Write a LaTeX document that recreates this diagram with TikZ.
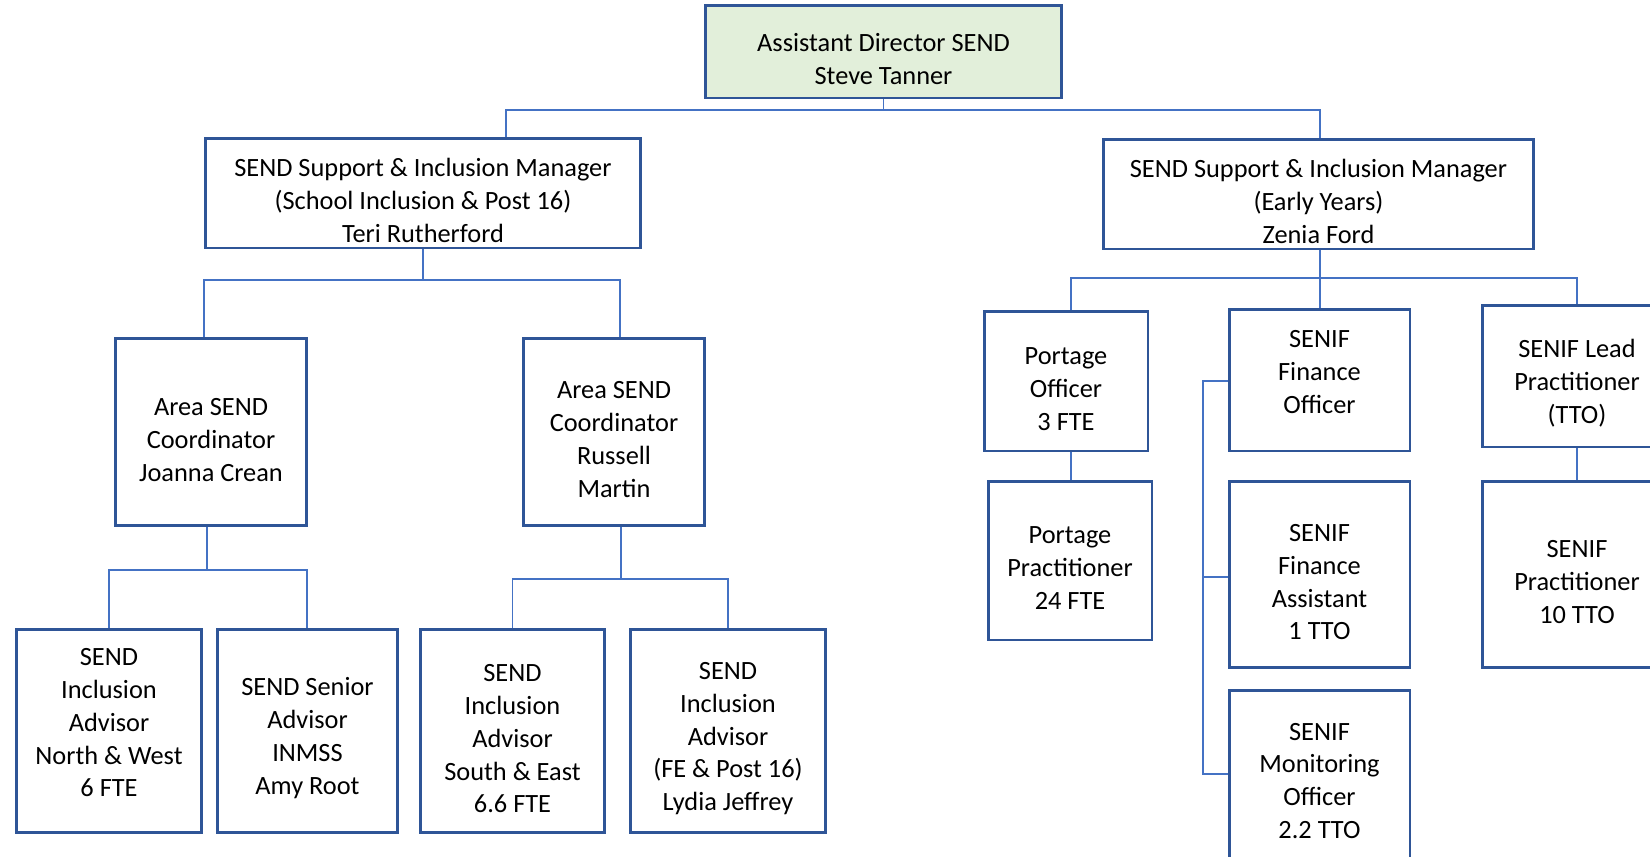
\documentclass[tikz,border=0pt]{standalone}
\usepackage{fontspec}
\setmainfont{Carlito}
\usepackage{xcolor}
\usepackage{tikz}
\definecolor{boxline}{HTML}{2F5597}
\definecolor{wire}{HTML}{4472C4}
\definecolor{headfill}{HTML}{E2EFDA}
\tikzstyle{post}=[rectangle,draw=boxline,line width=1.7pt,fill=white,align=center,inner sep=2pt,font=\fontsize{15}{18.7}\selectfont]
\tikzstyle{head}=[post,fill=headfill]
\tikzstyle{link}=[draw=wire,line width=0.85pt]
% pads to push the text lower (\padtop) or higher (\padbot) in its box
\newcommand{\padtop}{\rule{0pt}{18.5pt}}
\newcommand{\padbot}[1]{\rule[-#1]{0pt}{0pt}}

\begin{document}
\begin{tikzpicture}[x=0.02cm,y=-0.02cm]
        \useasboundingbox (0,0) rectangle (1650,856);
        \clip (0,0) rectangle (1650,856);

        \node at (883.5,51.5) [head,minimum width=7.14cm,minimum height=1.86cm] (dir) {\padtop Assistant Director SEND\\Steve Tanner};
        \node at (423,193)    [post,minimum width=8.72cm,minimum height=2.2cm]  (mgrL) {\padtop SEND Support \& Inclusion Manager\\(School Inclusion \& Post 16)\\Teri Rutherford};
        \node at (1318.5,194) [post,minimum width=8.62cm,minimum height=2.2cm]  (mgrR) {\padtop SEND Support \& Inclusion Manager\\(Early Years)\\Zenia Ford};

        \node at (211,432)    [post,minimum width=3.84cm,minimum height=3.76cm] (areaJ) {\padtop Area SEND\\Coordinator\\Joanna Crean};
        \node at (614,432)    [post,minimum width=3.64cm,minimum height=3.76cm] (areaR) {\padtop Area SEND\\Coordinator\\Russell\\Martin};

        \node at (109,731)    [post,minimum width=3.72cm,minimum height=4.08cm] (advNW) {SEND\\Inclusion\\Advisor\\North \& West\\6 FTE\padbot{9.5pt}};
        \node at (307.5,731)  [post,minimum width=3.62cm,minimum height=4.08cm] (advSen) {\padtop SEND Senior\\Advisor\\INMSS\\Amy Root};
        \node at (512.5,731)  [post,minimum width=3.7cm,minimum height=4.08cm]  (advSE) {\padtop SEND\\Inclusion\\Advisor\\South \& East\\6.6 FTE};
        \node at (728,731)    [post,minimum width=3.92cm,minimum height=4.08cm] (advFE) {\padtop SEND\\Inclusion\\Advisor\\(FE \& Post 16)\\Lydia Jeffrey};

        \node at (1066,381)   [post,minimum width=3.28cm,minimum height=2.8cm]  (portO) {\padtop Portage\\Officer\\3 FTE};
        \node at (1070,560.5) [post,minimum width=3.28cm,minimum height=3.18cm] (portP) {\padtop Portage\\Practitioner\\24 FTE};
        \node at (1319.5,380) [post,minimum width=3.62cm,minimum height=2.84cm] (finO) {SENIF\\Finance\\Officer\padbot{9.5pt}};
        \node at (1319.5,574.5) [post,minimum width=3.62cm,minimum height=3.74cm] (finA) {\padtop SENIF\\Finance\\Assistant\\1 TTO};
        \node at (1319.5,785) [post,minimum width=3.62cm,minimum height=3.8cm]  (monO) {SENIF\\Monitoring\\Officer\\2.2 TTO\padbot{4.8pt}};
        \node at (1577,376)   [post,minimum width=3.8cm,minimum height=2.84cm]  (leadP) {\padtop SENIF Lead\\Practitioner\\(TTO)};
        \node at (1577,574.5) [post,minimum width=3.8cm,minimum height=3.74cm]  (senP) {\padtop SENIF\\Practitioner\\10 TTO};

        % bus lines
        \coordinate (b0) at (883.5,110);
        \coordinate (b0l) at (506,110);
        \coordinate (b0r) at (1320,110);
        \coordinate (b1) at (423,280);
        \coordinate (b1l) at (204,280);
        \coordinate (b1r) at (620,280);
        \coordinate (b2) at (207,570);
        \coordinate (b2l) at (109,570);
        \coordinate (b2r) at (307,570);
        \coordinate (b3) at (621,579);
        \coordinate (b3l) at (512.5,579);
        \coordinate (b3r) at (728,579);
        \coordinate (b4) at (1320,278);
        \coordinate (b4l) at (1071,278);
        \coordinate (b4r) at (1577,278);
        \coordinate (s1) at (1203,381);
        \coordinate (s2) at (1203,577);
        \coordinate (s3) at (1203,774);

        \draw [link] (dir.south) -- (b0);
        \draw [link] (mgrL.north -| b0l) -- (b0l) -- (b0r) -- (mgrR.north -| b0r);
        \draw [link] (mgrL.south) -- (b1);
        \draw [link] (areaJ.north -| b1l) -- (b1l) -- (b1r) -- (areaR.north -| b1r);
        \draw [link] (areaJ.south -| b2) -- (b2);
        \draw [link] (advNW.north -| b2l) -- (b2l) -- (b2r) -- (advSen.north -| b2r);
        \draw [link] (areaR.south -| b3) -- (b3);
        \draw [link] (advSE.north -| b3l) -- (b3l) -- (b3r) -- (advFE.north -| b3r);
        \draw [link] (mgrR.south -| b4) -- (finO.north -| b4);
        \draw [link] (portO.north -| b4l) -- (b4l) -- (b4r) -- (leadP.north -| b4r);
        \draw [link] (portO.south -| b4l) -- (portP.north -| b4l);
        \draw [link] (leadP.south) -- (senP.north);
        \draw [link] (finO.west |- s1) -- (s1) -- (s3) -- (monO.west |- s3);
        \draw [link] (s2) -- (finA.west |- s2);
      \end{tikzpicture}
\end{document}
